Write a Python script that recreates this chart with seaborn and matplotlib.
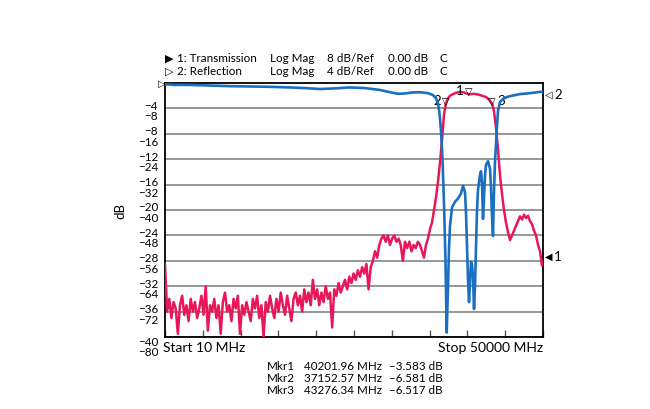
import numpy as np
import matplotlib
matplotlib.use("Agg")
import matplotlib.pyplot as plt
import seaborn as sns

# ---------------- data ----------------
# Transmission (S21, 8 dB/div) - noisy stop-band part, linear sweep in MHz
freq_noise = np.linspace(10, 33734, 120)
trans_noise = [
    -57, -72, -68, -74, -69, -71, -79, -70, -67, -73,
    -70, -75, -68, -72, -69, -74, -71, -67, -73, -64,
    -78, -70, -72, -68, -74, -70, -79, -69, -66, -72,
    -70, -75, -68, -71, -67, -79, -70, -73, -69, -72,
    -75, -68, -71, -67, -74, -70, -80, -69, -72, -67,
    -71, -74, -68, -72, -66, -70, -73, -67, -71, -75,
    -68, -66, -70, -67, -72, -65, -69, -66, -70, -62,
    -68, -65, -70, -66, -69, -64, -68, -66, -77, -65,
    -67, -63, -66, -64, -62, -65, -61, -63, -60, -62,
    -59, -61, -58, -60, -57, -65, -58, -56, -53, -55,
    -51, -49, -48, -50, -48, -51, -49, -48, -50, -49,
    -51, -56, -50, -52, -50, -53, -51, -52, -50, -51,
]
# Transmission - passband and upper stop-band (MHz, dB)
freq_tail = [
    33998, 34263, 34527, 34792, 35056, 35321, 35585, 35850, 36114, 36379,
    36643, 36775, 36908, 37040, 37152.57, 37437, 37701, 38098, 38495, 39024,
    39553, 40201.96, 40863, 41392, 41921, 42450, 42847, 43276.34, 43520, 43785,
    44050, 44314, 44579, 44843, 45108, 45372, 45637, 45901, 46166, 46430,
    46695, 46959, 47224, 47488, 47753, 48018, 48282, 48547, 48811, 49076,
    49340, 49605, 49869, 50000,
]
trans_tail = [
    -53, -55, -51, -49, -46, -44, -40, -36, -31, -25,
    -18, -14, -10, -8, -6.581, -4.8, -4.0, -3.5, -3.1, -2.8,
    -3.0, -3.583, -3.4, -3.6, -4.0, -4.4, -5.2, -6.517, -9, -14,
    -21, -29, -35, -40, -44, -47, -49.5, -48, -46.5, -45,
    -43.5, -42, -43, -41.5, -42.5, -41.8, -43.5, -44.5, -46.5, -48,
    -51, -53, -57.5, -56,
]
# Reflection (S11, 4 dB/div)
freq_refl = [
    10, 1332, 3316, 5961, 8606, 11251, 13896, 16541, 18525, 20509,
    22492, 24476, 26460, 28444, 29766, 30825, 31750, 32676, 33734, 34792,
    35453, 35850, 36114, 36313, 36511, 36709, 36908, 37106, 37265, 37437,
    37569, 37701, 37966, 38363, 38760, 39156, 39421, 39685, 39818, 39950,
    40082, 40215, 40347, 40479, 40611, 40744, 40876, 41008, 41141, 41273,
    41405, 41669, 41802, 41934, 42066, 42198, 42331, 42463, 42727, 42992,
    43124, 43256, 43388, 43520, 43653, 43785, 43917, 44050, 44314, 44711,
    45240, 45901, 46959, 48282, 49605, 50000,
]
refl_db = [
    -0.2, -0.3, -0.3, -0.4, -0.5, -0.55, -0.6, -0.7, -0.8, -0.95,
    -0.85, -0.7, -0.8, -1.1, -1.45, -1.7, -1.65, -1.5, -1.45, -1.6,
    -1.9, -2.4, -3.2, -4.8, -7.5, -12, -19, -28, -39.3, -32,
    -26, -22.5, -19.6, -18.7, -18.2, -17.4, -16.2, -17.2, -20.5, -25.7,
    -31, -34.5, -31.5, -28.2, -28.6, -30.5, -35.6, -32, -25.7, -20,
    -16.8, -14.5, -13.9, -15.8, -21.4, -18, -14.5, -12.9, -12.3, -13.5,
    -16.5, -21, -24.1, -17, -12.4, -9.6, -6.8, -4.4, -3.0, -2.5,
    -2.2, -2.0, -1.75, -1.6, -1.4, -1.35,
]
refl_tick_labels = ["−4", "−8", "−12", "−16", "−20", "−24", "−28", "−32", "−36", "−40"]
trans_tick_labels = ["−8", "−16", "−24", "−32", "−40", "−48", "−56", "−64", "−72", "−80"]
trans_grid = [-8, -16, -24, -32, -40, -48, -56, -64, -72, -80]
mkr_names = ["Mkr1", "Mkr2", "Mkr3"]
mkr_freq = [40201.96, 37152.57, 43276.34]
mkr_db = [-3.583, -6.581, -6.517]

RED = "#e8175a"
BLUE = "#1b6fc2"

# ---------------- style ----------------
sns.set_theme(style="white")
plt.rcParams["font.family"] = ["Lato", "DejaVu Sans"]
plt.rcParams["text.color"] = "black"

W, H = 650, 410
fig = plt.figure(figsize=(W / 100, H / 100), dpi=100)
ax = fig.add_axes([165 / W, 72 / H, 378 / W, 254 / H])

freq_trans = list(freq_noise) + freq_tail
trans_db = list(trans_noise) + trans_tail
sns.lineplot(x=freq_trans, y=trans_db, ax=ax, color=RED, linewidth=1.8, zorder=3)

ax.set_xlim(10, 50000)
ax.set_ylim(-80, 0)
ax.set_yticks(trans_grid)
ax.set_yticklabels([])
ax.set_xticks(np.linspace(10, 50000, 11))
ax.set_xticklabels([])
ax.tick_params(axis="y", length=0)
ax.tick_params(axis="x", direction="in", length=5, width=1, color="#555555", bottom=True)
ax.grid(axis="y", color="#8e8e8e", linewidth=1.3)
ax.grid(axis="x", visible=False)
for s in ax.spines.values():
    s.set_color("black")
    s.set_linewidth(1.3)
ax.set_xlabel("")
ax.set_ylabel("")

ax2 = ax.twinx()
sns.lineplot(x=freq_refl, y=refl_db, ax=ax2, color=BLUE, linewidth=1.9)
ax2.set_ylim(-40, 0)
ax2.set_xlim(10, 50000)
ax2.set_yticks([])
ax2.set_ylabel("")
for s in ax2.spines.values():
    s.set_visible(False)

# stacked y labels (reflection over transmission)
FS = 8.4
n = len(trans_grid)
for i, (rl, tl, g) in enumerate(zip(refl_tick_labels, trans_tick_labels, trans_grid)):
    up, dn = (3 * 0.72, -7.5 * 0.72) if i < n - 1 else (-5 * 0.72, -15 * 0.72)
    ax.annotate(rl, xy=(0, g), xycoords=("axes fraction", "data"), xytext=(-5, up),
                textcoords="offset points", ha="right", va="center", fontsize=FS)
    ax.annotate(tl, xy=(0, g), xycoords=("axes fraction", "data"), xytext=(-5, dn),
                textcoords="offset points", ha="right", va="center", fontsize=FS)
ax.annotate("dB", xy=(0, -40), xycoords=("axes fraction", "data"), xytext=(-32, 0),
            textcoords="offset points", ha="center", va="center", rotation=90, fontsize=9.5)

# markers
sides = [(-3.5, "right"), (-3.5, "right"), (3.5, "left")]
for name, f, db, (dx, ha) in zip(mkr_names, mkr_freq, mkr_db, sides):
    ax.annotate("▽", xy=(f, db), xytext=(0, 2.2), textcoords="offset points",
                ha="center", va="center", fontsize=7, family=["DejaVu Sans"], zorder=6)
    ax.annotate(name[-1], xy=(f, db), xytext=(dx, 3.0), textcoords="offset points",
                ha=ha, va="center", fontsize=9.5, zorder=6)

# reference arrows
ax.annotate("▷", xy=(0, 0), xycoords=("axes fraction", "data"), xytext=(0.5, 0),
            textcoords="offset points", ha="right", va="center", fontsize=7,
            family=["DejaVu Sans"], annotation_clip=False)
ax2.annotate("◁", xy=(1, -1.7), xycoords=("axes fraction", "data"), xytext=(1.5, 0),
             textcoords="offset points", ha="left", va="center", fontsize=7,
             family=["DejaVu Sans"], annotation_clip=False)
ax2.annotate("2", xy=(1, -1.7), xycoords=("axes fraction", "data"), xytext=(8.5, 0),
             textcoords="offset points", ha="left", va="center", fontsize=9.5,
             annotation_clip=False)
ax.annotate("◀", xy=(1, -54.5), xycoords=("axes fraction", "data"), xytext=(1.5, 0),
            textcoords="offset points", ha="left", va="center", fontsize=7,
            family=["DejaVu Sans"], annotation_clip=False)
ax.annotate("1", xy=(1, -54.5), xycoords=("axes fraction", "data"), xytext=(8, 0),
            textcoords="offset points", ha="left", va="center", fontsize=9.5,
            annotation_clip=False)

# header
def ftext(x, y, s, fs=FS, **kw):
    fig.text(x / W, 1 - y / H, s, va="center", fontsize=fs, **kw)

rows = [("▶", "1: Transmission", "8 dB/Ref", 59), ("▷", "2: Reflection", "4 dB/Ref", 72)]
for sym, name, scale, y in rows:
    ftext(165, y, sym, fs=8, family=["DejaVu Sans"])
    ftext(177, y, name)
    ftext(270, y, "Log Mag")
    ftext(327, y, scale)
    ftext(388, y, "0.00 dB")
    ftext(440, y, "C")

# start / stop
ftext(163, 348, "Start 10 MHz", fs=10, ha="left")
ftext(543, 348, "Stop 50000 MHz", fs=10, ha="right")

# marker table
for k, (name, f, db) in enumerate(zip(mkr_names, mkr_freq, mkr_db)):
    y = 367 + 12 * k
    ftext(267, y, name)
    ftext(382, y, f"{f:.2f} MHz", ha="right")
    ftext(389, y, f"–{abs(db):.3f} dB")

fig.savefig("out.png", dpi=100)
